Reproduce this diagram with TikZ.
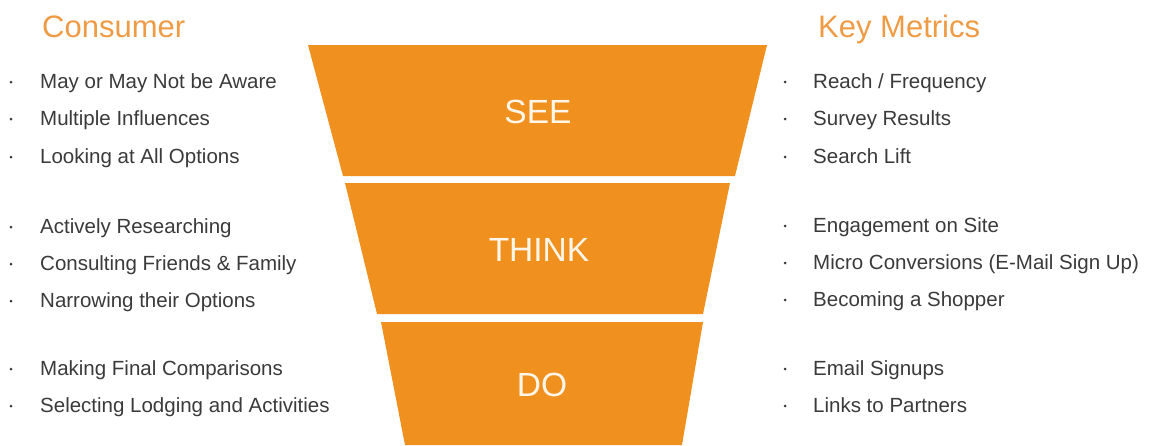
\documentclass[tikz,border=0pt]{standalone}
\usepackage{fontspec}
\setmainfont{Liberation Sans}
\definecolor{funnel}{HTML}{F0901F}
\definecolor{head}{HTML}{EF9B45}
\definecolor{txt}{HTML}{3A3A3A}
\definecolor{lbl}{HTML}{FFF6EA}
\begin{document}
\begin{tikzpicture}[x=1pt,y=-1pt,
  item/.style={anchor=base west, text=txt, font=\fontsize{20.5}{24}\selectfont, inner sep=0pt},
  heading/.style={anchor=base west, text=head, font=\fontsize{31}{36}\selectfont, inner sep=0pt},
  stage/.style={text=lbl, font=\fontsize{33.5}{38}\selectfont, inner sep=0pt},
  bul/.style={fill=txt, circle, inner sep=0pt, minimum size=3pt},
  band/.style={fill=funnel}]
\useasboundingbox (0,0) rectangle (1151,445);
% funnel bands
\fill[band] (308,45) -- (767,45) -- (735,176) -- (343,176) -- cycle;
\fill[band] (345,183) -- (730,183) -- (703,314) -- (377,314) -- cycle;
\fill[band] (381,322) -- (703,322) -- (682,445) -- (405,445) -- cycle;
\node[stage] (see) at (538,111.5) {SEE};
\node[stage] (think) at (539,249.5) {THINK};
\node[stage] (do) at (542,385) {DO};
% headings
\node[heading] (consumer) at (42,37) {Consumer};
\node[heading] (metrics) at (818,37) {Key Metrics};
% left column
\node[item] (l1) at (40,88) {May or May Not be Aware};
\node[item] (l2) at (40,125) {Multiple Influences};
\node[item] (l3) at (40,163) {Looking at All Options};
\node[item] (l4) at (40,233) {Actively Researching};
\node[item] (l5) at (40,270) {Consulting Friends \& Family};
\node[item] (l6) at (40,307) {Narrowing their Options};
\node[item] (l7) at (40,375) {Making Final Comparisons};
\node[item] (l8) at (40,412) {Selecting Lodging and Activities};
\foreach \y [count=\i] in {88,125,163,233,270,307,375,412}
  \node[bul] (lb\i) at (11,\y-6) {};
% right column
\node[item] (r1) at (813,88) {Reach / Frequency};
\node[item] (r2) at (813,125) {Survey Results};
\node[item] (r3) at (813,163) {Search Lift};
\node[item] (r4) at (813,232) {Engagement on Site};
\node[item] (r5) at (813,269) {Micro Conversions (E-Mail Sign Up)};
\node[item] (r6) at (813,306) {Becoming a Shopper};
\node[item] (r7) at (813,375) {Email Signups};
\node[item] (r8) at (813,412) {Links to Partners};
\foreach \y [count=\i] in {88,125,163,232,269,306,375,412}
  \node[bul] (rb\i) at (785,\y-6) {};
\end{tikzpicture}
\end{document}
